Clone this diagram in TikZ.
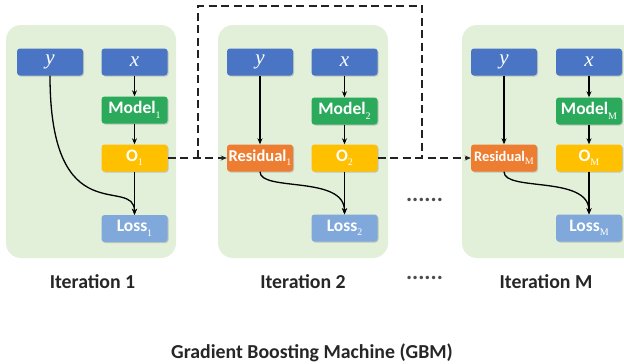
\documentclass[tikz,border=0pt]{standalone}
\usepackage{fontspec}
\setmainfont{Carlito}
\newfontfamily\myserif{Liberation Serif}
\usetikzlibrary{shadows,arrows.meta}
\newcommand{\sbs}[1]{\raisebox{-0.25em}{\fontsize{10}{10}\selectfont\mdseries\myserif #1}}
\definecolor{pan}{HTML}{E2EFD9}
\definecolor{cblue}{HTML}{4A74C4}
\definecolor{cgreen}{HTML}{2BAA5C}
\definecolor{cyellow}{HTML}{FFC000}
\definecolor{corange}{HTML}{ED7D31}
\definecolor{closs}{HTML}{80A8DA}
\definecolor{cdash}{HTML}{222222}
\begin{document}
\begin{tikzpicture}[x=1pt,y=-1pt,
  box/.style={rounded corners=3pt, minimum width=66pt, minimum height=27pt, inner sep=0pt,
    text=white, font=\fontsize{17.5}{17.5}\selectfont\bfseries,
    drop shadow={shadow xshift=1pt,shadow yshift=-1pt,opacity=0.35}},
  inbox/.style={box, fill=cblue, font=\fontsize{21}{21}\selectfont\myserif\itshape},
  modbox/.style={box, fill=cgreen},
  obox/.style={box, fill=cyellow},
  resbox/.style={box, fill=corange, font=\fontsize{16.5}{16.5}\selectfont\bfseries},
  lossbox/.style={box, fill=closs},
  panel/.style={fill=pan, rounded corners=15pt},
  arr/.style={-{Stealth[length=6pt,width=5pt]}, line width=1.3pt},
  dsh/.style={draw=cdash, line width=1.5pt, dash pattern=on 8pt off 4.5pt},
  lbl/.style={font=\fontsize{19.8}{19.8}\selectfont\bfseries, text=black!85},
  dots/.style={font=\fontsize{23}{23}\selectfont\bfseries, text=black!70}]
\useasboundingbox (0,0) rectangle (624,364);
% panels
\fill[panel] (6,25) rectangle (176,258);
\fill[panel] (218,25) rectangle (388,258);
\fill[panel] (462,25) rectangle (640,258);
% panel 1
\node[inbox] (y1) at (50,62) {y};
\node[inbox] (x1) at (134.5,62) {x};
\node[modbox] (m1) at (134.5,110) {Model\sbs{1}};
\node[obox] (o1) at (134.5,158) {O\sbs{1}};
\node[lossbox] (l1) at (134.5,228.5) {Loss\sbs{1}};
% panel 2
\node[inbox] (y2) at (260,62) {y};
\node[inbox] (x2) at (344.5,62) {x};
\node[modbox] (m2) at (344.5,111) {Model\sbs{2}};
\node[resbox] (r1) at (260,158) {Residual\sbs{1}};
\node[obox] (o2) at (344.5,158) {O\sbs{2}};
\node[lossbox] (l2) at (344.5,228) {Loss\sbs{2}};
% panel M
\node[inbox] (y3) at (504,62) {y};
\node[inbox] (x3) at (589,62) {x};
\node[modbox] (m3) at (589,111) {Model\sbs{M}};
\node[resbox, font=\fontsize{14.5}{14.5}\selectfont\bfseries] (r3) at (504,158) {Residual\sbs{M}};
\node[obox] (o3) at (589,158) {O\sbs{M}};
\node[lossbox] (l3) at (589,228) {Loss\sbs{M}};
% arrows panel 1
\draw[arr] (x1) -- (m1);
\draw[arr] (m1) -- (o1);
\draw[arr] (o1) -- (l1);
\draw[arr] (y1.south) .. controls (50,235) and (134.5,175) .. (l1.north);
% arrows panel 2
\draw[arr] (x2) -- (m2);
\draw[arr] (m2) -- (o2);
\draw[arr] (o2) -- (l2);
\draw[arr] (y2) -- (r1);
\draw[arr] (r1.south) .. controls (260,192) and (344.5,175) .. (l2.north);
% arrows panel M
\draw[arr] (x3) -- (m3);
\draw[arr] (m3) -- (o3);
\draw[arr] (o3) -- (l3);
\draw[arr] (y3) -- (r3);
\draw[arr] (r3.south) .. controls (504,192) and (589,175) .. (l3.north);
% dashed connections
\coordinate (j1) at (198,158);
\coordinate (t1) at (198,6);
\coordinate (t2) at (422,6);
\coordinate (j2) at (422,158);
\draw[dsh, -{Stealth[length=6pt,width=5pt]}] (o1.east) -- (j1) -- (r1.west);
\draw[dsh] (j1) -- (t1) -- (t2) -- (j2);
\draw[dsh, -{Stealth[length=6pt,width=5pt]}] (o2.east) -- (j2) -- (r3.west);
% dots
\node[dots] (d1) at (424.5,200) {......};
\node[dots] (d2) at (424.5,278) {......};
% labels
\node[lbl] (it1) at (92.5,282) {Iteration 1};
\node[lbl] (it2) at (303,282) {Iteration 2};
\node[lbl] (it3) at (546,282) {Iteration M};
\node[lbl] (title) at (312,353) {Gradient Boosting Machine (GBM)};
\end{tikzpicture}
\end{document}
